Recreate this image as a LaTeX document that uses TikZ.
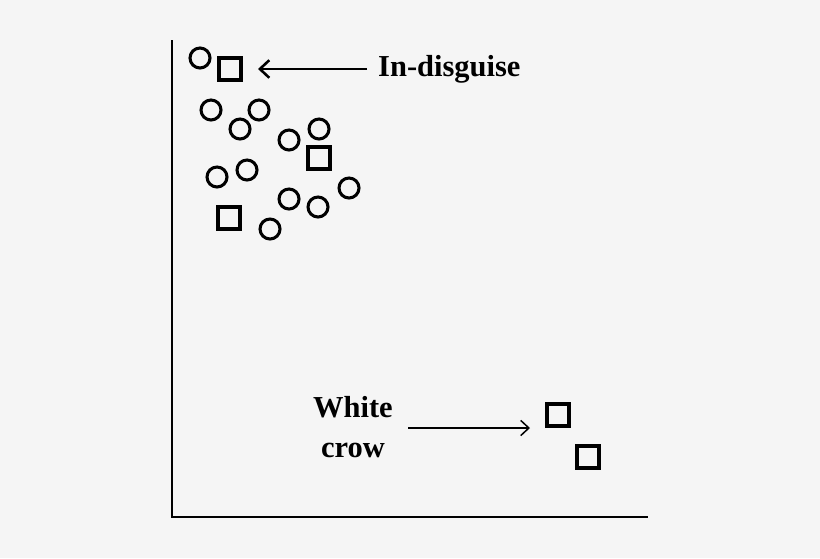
\documentclass[tikz,border=0pt]{standalone}
\usepackage{fontspec}
\setmainfont{Liberation Serif}
\usetikzlibrary{arrows.meta}
\begin{document}
\begin{tikzpicture}[
    x=0.03cm, y=-0.03cm,
    font=\fontsize{26}{34}\selectfont\bfseries,
    every node/.style={inner sep=0},
    pt/.style={circle, draw, line width=2.6pt, minimum size=0.6cm},
    sq/.style={rectangle, draw, line width=2.6pt, minimum size=0.66cm},
    axis/.style={line width=1pt}
  ]
  \fill[gray!8] (0,0) rectangle (820,558);

  % axes
  \draw[axis] (172,40) -- (172,517) -- (648,517);

  % circles
  \foreach \x/\y [count=\i] in {200/58,211/110,240/129,259/110,289/140,319/129,
      217/177,247/170,289/199,318/207,349/188,270/229}
    \node[pt] (c\i) at (\x,\y) {};

  % squares
  \node[sq] (s1) at (230,69) {};
  \node[sq] (s2) at (319,158) {};
  \node[sq] (s3) at (229,218) {};
  \node[sq] (s4) at (558,415) {};
  \node[sq] (s5) at (588,457) {};

  % labels
  \node[anchor=west] (dis) at (378,69) {In-disguise};
  \node[align=center] (crow) at (353,427) {White\\crow};

  \coordinate (d0) at (367,69);
  \coordinate (d1) at (258,69);
  \coordinate (w0) at (408,428);
  \coordinate (w1) at (530,428);
  \draw[line width=2.2pt, -{Straight Barb[length=8pt,width=15pt]}] (d0) -- (d1);
  \draw[line width=1.3pt, -{Straight Barb[length=7pt,width=13pt]}] (w0) -- (w1);
\end{tikzpicture}
\end{document}
